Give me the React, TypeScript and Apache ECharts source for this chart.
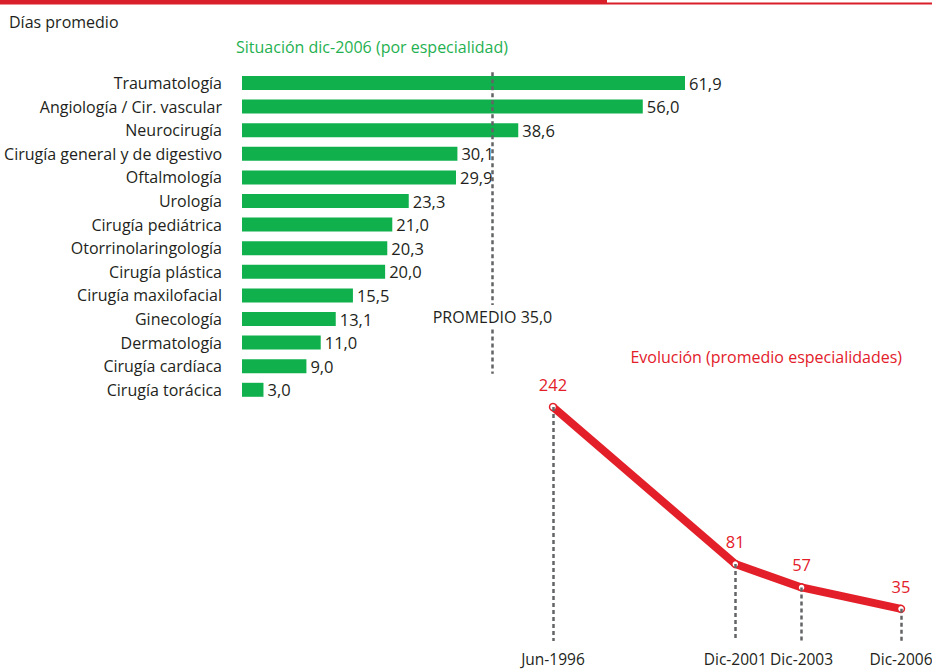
import React, { useEffect, useRef } from "react";
import * as echarts from "echarts";

const especialidades = [
  "Traumatología",
  "Angiología / Cir. vascular",
  "Neurocirugía",
  "Cirugía general y de digestivo",
  "Oftalmología",
  "Urología",
  "Cirugía pediátrica",
  "Otorrinolaringología",
  "Cirugía plástica",
  "Cirugía maxilofacial",
  "Ginecología",
  "Dermatología",
  "Cirugía cardíaca",
  "Cirugía torácica",
];
const diasEspecialidad = [61.9, 56.0, 38.6, 30.1, 29.9, 23.3, 21.0, 20.3, 20.0, 15.5, 13.1, 11.0, 9.0, 3.0];
const promedio = 35.0;

const fechas = ["Jun-1996", "Dic-2001", "Dic-2003", "Dic-2006"];
const fechasNum = [1996.42, 2001.92, 2003.92, 2006.92];
const evolucion = [242, 81, 57, 35];

const FONT = "Open Sans";
const GREEN = "#10b04c";
const RED = "#e3202a";
const GRAY = "#636466";
const TEXT = "#231f20";

const fmt = (v: number) => v.toFixed(1).replace(".", ",");

export default function App() {
  const ref = useRef<HTMLDivElement>(null);
  useEffect(() => {
    if (!ref.current) return;
    const chart = echarts.init(ref.current, null, { renderer: "svg" });
    const lineData = fechasNum.map((x, i) => [x, evolucion[i]]);
    chart.setOption({
      animation: false,
      textStyle: { fontFamily: FONT },
      title: [
        {
          text: "Días promedio",
          left: 4,
          top: 9,
          textStyle: { fontFamily: FONT, fontSize: 16, fontWeight: "normal", color: TEXT },
        },
        {
          text: "Situación dic-2006 (por especialidad)",
          left: 231,
          top: 34,
          textStyle: { fontFamily: FONT, fontSize: 16, fontWeight: "normal", color: "#1fb151" },
        },
        {
          text: "Evolución (promedio especialidades)",
          right: 25,
          top: 344,
          textStyle: { fontFamily: FONT, fontSize: 16, fontWeight: "normal", color: RED },
        },
      ],
      graphic: [
        { type: "rect", shape: { x: 0, y: 0, width: 607, height: 4.5 }, style: { fill: "#d91f29" } },
        { type: "rect", shape: { x: 607, y: 2.5, width: 325, height: 2 }, style: { fill: "#d91f29" } },
      ],
      grid: [
        { left: 242, top: 71.2, width: 443, height: 330.4, containLabel: false, outerBoundsMode: "none" },
        { left: 553, top: 407, width: 348, height: 236, containLabel: false, outerBoundsMode: "none" },
      ],
      xAxis: [
        { type: "value", gridIndex: 0, min: 0, max: 61.9, show: false },
        {
          type: "value",
          gridIndex: 1,
          min: fechasNum[0],
          max: fechasNum[fechasNum.length - 1],
          axisLine: { show: false },
          axisTick: { show: false },
          splitLine: { show: false },
          axisLabel: {
            customValues: fechasNum,
            formatter: (v: number) => {
              const i = fechasNum.findIndex((f) => Math.abs(f - v) < 0.01);
              return i >= 0 ? fechas[i] : "";
            },
            margin: 8,
            fontSize: 15.5,
            lineHeight: 16,
            color: TEXT,
            fontFamily: FONT,
            showMinLabel: true,
            showMaxLabel: true,
            hideOverlap: false,
          },
        },
      ],
      yAxis: [
        {
          type: "category",
          gridIndex: 0,
          data: especialidades,
          inverse: true,
          axisLine: { show: false },
          axisTick: { show: false },
          axisLabel: { margin: 20, fontSize: 16, color: TEXT, fontFamily: FONT },
        },
        {
          type: "value",
          gridIndex: 0,
          min: -0.6,
          max: 13.6,
          inverse: true,
          show: false,
        },
        {
          type: "value",
          gridIndex: 1,
          min: 0,
          max: 242,
          show: false,
        },
      ],
      series: [
        {
          type: "bar",
          xAxisIndex: 0,
          yAxisIndex: 0,
          data: diasEspecialidad,
          barWidth: 14,
          itemStyle: { color: GREEN },
          label: {
            show: true,
            position: "right",
            distance: 4,
            fontSize: 16.5,
            color: TEXT,
            fontFamily: FONT,
            formatter: (p: any) => fmt(p.value),
          },
          z: 2,
        },
        {
          type: "scatter",
          xAxisIndex: 0,
          yAxisIndex: 1,
          data: [],
          symbolSize: 0,
          silent: true,
          z: 3,
          markLine: {
            silent: true,
            symbol: "none",
            lineStyle: { color: GRAY, type: [4, 3], width: 2.5 },
            data: [
              [
                {
                  coord: [promedio, -0.55],
                  label: {
                    show: true,
                    position: "end",
                    distance: 4,
                    formatter: "PROMEDIO " + fmt(promedio),
                    fontSize: 16,
                    color: TEXT,
                    fontFamily: FONT,
                  },
                },
                { coord: [promedio, 9.45] },
              ],
              [
                { coord: [promedio, 10.5], label: { show: false } },
                { coord: [promedio, 12.4] },
              ],
            ],
          },
        },
        {
          type: "scatter",
          xAxisIndex: 1,
          yAxisIndex: 2,
          data: lineData,
          symbolSize: 0,
          silent: true,
          z: 1,
          markLine: {
            silent: true,
            symbol: "none",
            label: { show: false },
            lineStyle: { color: GRAY, type: [4, 3], width: 2.5 },
            data: lineData.map((d) => [{ coord: [d[0], d[1]] }, { coord: [d[0], 2] }]),
          },
        },
        {
          type: "line",
          xAxisIndex: 1,
          yAxisIndex: 2,
          data: lineData,
          lineStyle: { color: RED, width: 8 },
          itemStyle: { color: "#ffffff", borderColor: RED, borderWidth: 1.5 },
          symbol: "circle",
          symbolSize: 7,
          showAllSymbol: true,
          label: {
            show: true,
            position: "top",
            distance: 10,
            fontSize: 16.5,
            color: RED,
            fontFamily: FONT,
            formatter: (p: any) => String(p.value[1]),
          },
          z: 2,
        },
      ],
    });
    return () => chart.dispose();
  }, []);
  return (
    <div
      ref={ref}
      style={{ position: "fixed", left: 0, top: 0, width: 932, height: 669, background: "#fff" }}
    />
  );
}
